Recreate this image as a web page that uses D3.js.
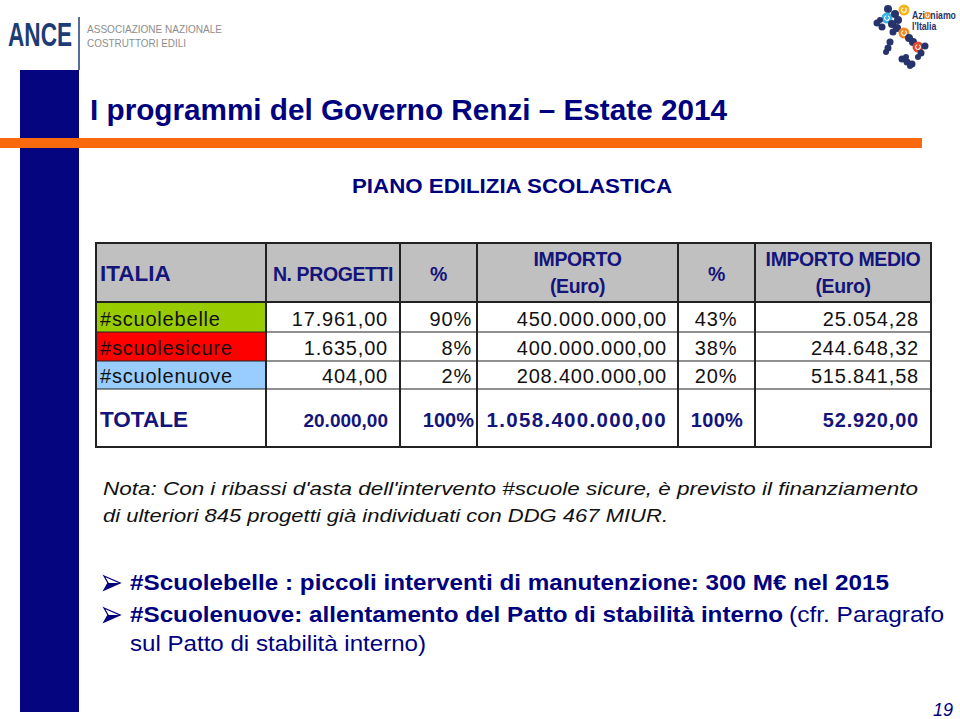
<!DOCTYPE html>
<html>
<head>
<meta charset="utf-8">
<script src="https://cdn.jsdelivr.net/npm/d3@7"></script>
<style>
  html, body { margin: 0; padding: 0; background: #ffffff; }
  svg { display: block; }
  text { font-family: "Liberation Sans", Arial, sans-serif; }
</style>
</head>
<body>
<svg id="chart" width="960" height="719"></svg>
<script>
// ---------------- DATA ----------------
const categories   = ["#scuolebelle", "#scuolesicure", "#scuolenuove"];
const nProgetti    = [17961, 1635, 404];
const pctProgetti  = [90, 8, 2];
const importo      = [450000000, 400000000, 208400000];
const pctImporto   = [43, 38, 20];
const importoMedio = [25054.28, 244648.32, 515841.58];
const totalLabel   = "TOTALE";
const totals       = [20000, 100, 1058400000, 100, 52920];
const headerLabels = [["ITALIA"], ["N. PROGETTI"], ["%"], ["IMPORTO", "(Euro)"], ["%"], ["IMPORTO MEDIO", "(Euro)"]];
const categoryColors = ["#99cc00", "#ff0000", "#99ccff"];

const titleText    = "I programmi del Governo Renzi – Estate 2014";
const subtitleText = "PIANO EDILIZIA SCOLASTICA";
const noteLines    = ["Nota: Con i ribassi d'asta dell'intervento #scuole sicure, è previsto il finanziamento",
                      "di ulteriori 845 progetti già individuati con DDG 467 MIUR."];
const bullet1      = "#Scuolebelle : piccoli interventi di manutenzione: 300 M€ nel 2015";
const bullet2Bold  = "#Scuolenuove: allentamento del Patto di stabilità interno";
const bullet2Reg   = "(cfr. Paragrafo";
const bullet3Reg   = "sul Patto di stabilità interno)";
const pageNumber   = "19";

// ---------------- HELPERS ----------------
const it = d3.formatLocale({decimal: ",", thousands: ".", grouping: [3], currency: ["€", ""]});
const fmtNum = it.format(",.2f");
const fmtPct = v => v + "%";

const NAVY = "#00007f";
const svg = d3.select("#chart");

// ---------------- SLIDE DECOR ----------------
svg.append("rect").attr("x", 20).attr("y", 70).attr("width", 59).attr("height", 642).attr("fill", "#05057f");
svg.append("rect").attr("x", 0).attr("y", 138).attr("width", 922).attr("height", 10).attr("fill", "#f9690e");

// ANCE logo
const ANCE = "#1c3c76";
svg.append("text").attr("transform", "translate(8,46) scale(0.685,1)").attr("font-size", 33).attr("font-weight", "bold")
  .attr("fill", ANCE).text("ANCE");
svg.append("line").attr("x1", 79).attr("x2", 79).attr("y1", 17).attr("y2", 70)
  .attr("stroke", ANCE).attr("stroke-width", 1.5);
svg.append("text").attr("x", 87).attr("y", 33).attr("font-size", 11).attr("fill", "#8e8e8e")
  .attr("textLength", 135).attr("lengthAdjust", "spacingAndGlyphs").text("ASSOCIAZIONE NAZIONALE");
svg.append("text").attr("x", 87).attr("y", 46.5).attr("font-size", 11).attr("fill", "#8e8e8e")
  .attr("textLength", 99).attr("lengthAdjust", "spacingAndGlyphs").text("COSTRUTTORI EDILI");

// Azioniamo l'Italia logo (decorative dots)
const logoDots = [
  [888,9,4,"n"],[904,10,5.5,"#f4b41a"],[887,18,5.5,"#3cb4e6"],[895,14,4,"n"],[898,20,4,"n"],
  [877,23,3.5,"n"],[882,27,3.5,"n"],[892,24,4,"n"],[897,28,4,"n"],[893,32,3.5,"n"],[880,20,3,"n"],
  [904,33,5.5,"#f08a24"],[909,38,4,"n"],[913,42,4,"n"],[918,47,5.5,"#e2492c"],[925,46,3.5,"n"],
  [921,53,3.5,"n"],[918,57,3,"n"],[890,42,3.5,"n"],[888,48,3.5,"n"],[886,52,3,"n"],
  [902,59,3.5,"n"],[907,62,3.5,"n"],[912,64,3.5,"n"],[906,57,3,"n"],[910,66,3,"n"]
];
const lg = svg.append("g");
lg.selectAll("circle").data(logoDots).join("circle")
  .attr("cx", d => d[0]).attr("cy", d => d[1]).attr("r", d => d[2])
  .attr("fill", d => d[3] === "n" ? "#27336b" : d[3]);
lg.selectAll("path.ring").data(logoDots.filter(d => d[3] !== "n")).join("path")
  .attr("class", "ring")
  .attr("d", d => d3.arc().innerRadius(1.8).outerRadius(2.9).startAngle(0.6).endAngle(2 * Math.PI - 0.3)())
  .attr("transform", d => `translate(${d[0]},${d[1]})`).attr("fill", "#ffffff");
svg.append("text").attr("transform", "translate(912,19) scale(0.87,1)").attr("font-size", 10).attr("font-weight", "bold")
  .attr("fill", "#27336b").text("Azioniamo");
// orange ring replacing the "o"
svg.append("circle").attr("cx", 927.5).attr("cy", 15.5).attr("r", 3.6).attr("fill", "#f08a24");
svg.append("path").attr("d", d3.arc().innerRadius(1.1).outerRadius(2.0).startAngle(0.6).endAngle(2 * Math.PI - 0.3)())
  .attr("transform", "translate(927.5,15.5)").attr("fill", "#ffffff");
svg.append("text").attr("transform", "translate(912,30) scale(0.87,1)").attr("font-size", 10).attr("font-weight", "bold")
  .attr("fill", "#27336b").text("l'Italia");

// title & subtitle
svg.append("text").attr("x", 90).attr("y", 120).attr("font-size", 30).attr("font-weight", "bold").attr("fill", NAVY)
  .attr("textLength", 637).attr("lengthAdjust", "spacingAndGlyphs").text(titleText);
svg.append("text").attr("x", 352).attr("y", 193).attr("font-size", 21).attr("font-weight", "bold").attr("fill", NAVY)
  .attr("textLength", 320).attr("lengthAdjust", "spacingAndGlyphs").text(subtitleText);

// ---------------- TABLE ----------------
const colEdges = [96, 266, 400, 477, 678, 755, 931];
const rowEdges = [243, 302, 332, 361, 389, 447];
const col = i => colEdges[i];
const colW = i => colEdges[i + 1] - colEdges[i];

const rows = categories.map((c, i) => [c, fmtNum(nProgetti[i]), fmtPct(pctProgetti[i]), fmtNum(importo[i]), fmtPct(pctImporto[i]), fmtNum(importoMedio[i])]);
const totalRow = [totalLabel, fmtNum(totals[0]), fmtPct(totals[1]), fmtNum(totals[2]), fmtPct(totals[3]), fmtNum(totals[4])];

const align = [
  ["start", 100], ["end", 388], ["end", 472], ["end", 667], ["middle", 716], ["end", 919]
];

const tbl = svg.append("g");
tbl.append("rect").attr("x", colEdges[0]).attr("y", rowEdges[0]).attr("width", colEdges[6] - colEdges[0])
  .attr("height", rowEdges[1] - rowEdges[0]).attr("fill", "#c0c0c0");
tbl.selectAll("rect.cat").data(categories).join("rect").attr("class", "cat")
  .attr("x", colEdges[0]).attr("y", (d, i) => rowEdges[i + 1]).attr("width", colW(0))
  .attr("height", (d, i) => rowEdges[i + 2] - rowEdges[i + 1]).attr("fill", (d, i) => categoryColors[i]);

// header texts
const HDR = "#14147a";
headerLabels.forEach((lines, j) => {
  const cx = j === 0 ? 100 : (col(j) + col(j + 1)) / 2;
  const anchor = j === 0 ? "start" : "middle";
  lines.forEach((t, k) => {
    const y = lines.length === 1 ? 281 : (k === 0 ? 266 : 293);
    tbl.append("text").attr("x", cx).attr("y", y).attr("text-anchor", anchor)
      .attr("font-size", j === 0 ? 22.5 : 19.5).attr("font-weight", "bold").attr("fill", HDR)
      .attr("letter-spacing", j === 0 ? 0 : -0.4).text(t);
  });
});

// data rows
rows.forEach((r, i) => {
  const y = rowEdges[i + 2] - 6;
  r.forEach((t, j) => {
    tbl.append("text").attr("x", align[j][1]).attr("y", y).attr("text-anchor", align[j][0])
      .attr("font-size", 20).attr("letter-spacing", 0.8).attr("fill", "#111111").text(t);
  });
});
// total row
const totalAlign = [["start", 100, 22.5, 0], ["end", 388, 19, 0], ["end", 474, 20, 0],
                    ["end", 667, 20.5, 1.3], ["middle", 717, 20, 0.3], ["end", 919, 20, 0.8]];
totalRow.forEach((t, j) => {
  tbl.append("text").attr("x", totalAlign[j][1]).attr("y", 427).attr("text-anchor", totalAlign[j][0])
    .attr("font-size", totalAlign[j][2]).attr("letter-spacing", totalAlign[j][3])
    .attr("font-weight", "bold").attr("fill", HDR).text(t);
});

// grid lines
tbl.selectAll("line.v").data(colEdges).join("line").attr("class", "v")
  .attr("x1", d => d).attr("x2", d => d).attr("y1", rowEdges[0]).attr("y2", rowEdges[5])
  .attr("stroke", "#222").attr("stroke-width", 2);
tbl.selectAll("line.h").data(rowEdges).join("line").attr("class", "h")
  .attr("x1", colEdges[0] - 1).attr("x2", colEdges[6] + 1).attr("y1", d => d).attr("y2", d => d)
  .attr("stroke", "#222").attr("stroke-width", (d, i) => (i === 0 || i === 1 || i === 5) ? 2 : 1.2);

// ---------------- NOTE ----------------
svg.append("text").attr("x", 103).attr("y", 495).attr("font-size", 18).attr("font-style", "italic").attr("fill", "#111")
  .attr("textLength", 815).attr("lengthAdjust", "spacingAndGlyphs").text(noteLines[0]);
svg.append("text").attr("x", 103).attr("y", 522).attr("font-size", 18).attr("font-style", "italic").attr("fill", "#111")
  .attr("textLength", 565).attr("lengthAdjust", "spacingAndGlyphs").text(noteLines[1]);

// ---------------- BULLETS ----------------
const arrowPath = "M0,-7 L16,0 L0,7 L4,0 Z";
[583, 615].forEach(cy => {
  const g = svg.append("g").attr("transform", `translate(104,${cy})`);
  g.append("path").attr("d", arrowPath).attr("fill", "#ffffff").attr("stroke", NAVY)
    .attr("stroke-width", 1.3).attr("stroke-linejoin", "miter");
  g.append("path").attr("d", "M4,0 L16,0 L0,7 Z").attr("fill", NAVY);
});
svg.append("text").attr("x", 130).attr("y", 590).attr("font-size", 22).attr("font-weight", "bold").attr("fill", NAVY)
  .attr("textLength", 759).attr("lengthAdjust", "spacingAndGlyphs").text(bullet1);
svg.append("text").attr("x", 130).attr("y", 622).attr("font-size", 22).attr("font-weight", "bold").attr("fill", NAVY)
  .attr("textLength", 653).attr("lengthAdjust", "spacingAndGlyphs").text(bullet2Bold);
svg.append("text").attr("x", 789).attr("y", 622).attr("font-size", 22).attr("fill", NAVY)
  .attr("textLength", 155).attr("lengthAdjust", "spacingAndGlyphs").text(bullet2Reg);
svg.append("text").attr("x", 130).attr("y", 651).attr("font-size", 22).attr("fill", NAVY)
  .attr("textLength", 296).attr("lengthAdjust", "spacingAndGlyphs").text(bullet3Reg);

// page number
svg.append("text").attr("x", 933).attr("y", 716).attr("font-size", 18).attr("font-style", "italic").attr("fill", NAVY)
  .text(pageNumber);
</script>
</body>
</html>
